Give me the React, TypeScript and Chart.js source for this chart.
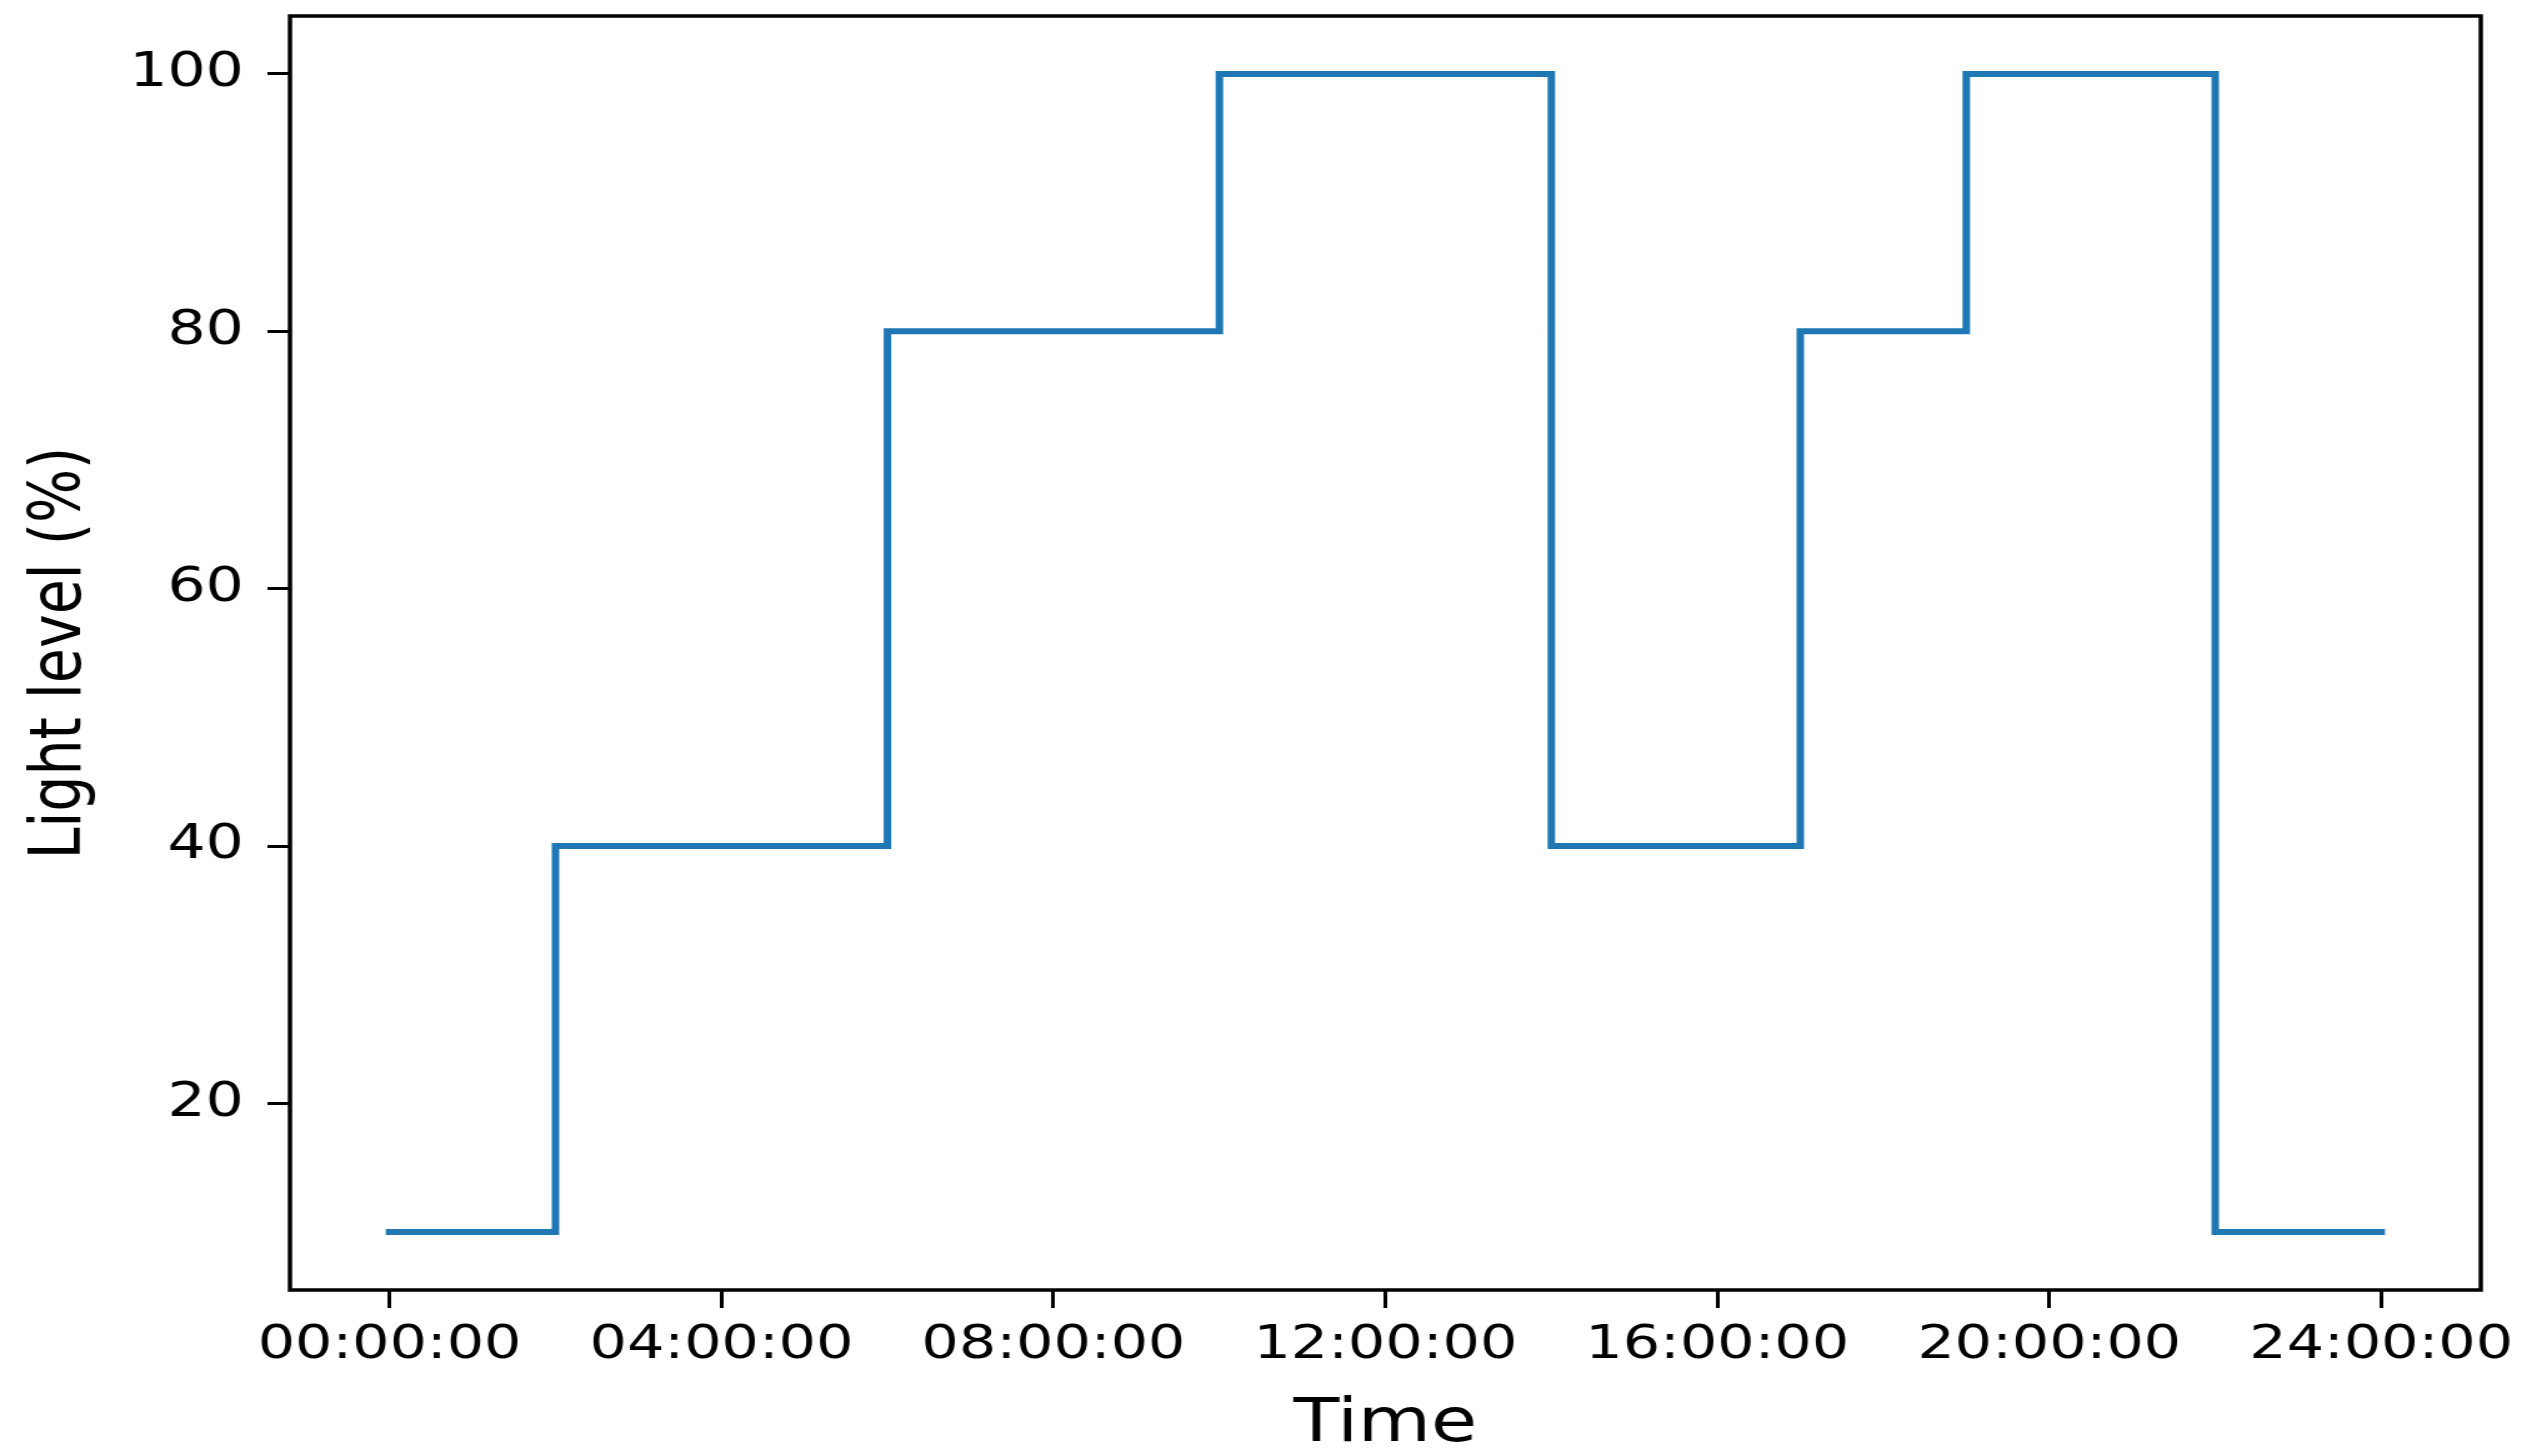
import React, { useEffect, useRef } from "react";
import { Chart, registerables } from "chart.js";

Chart.register(...registerables);

// ---- data ----
const HOURS = [0, 2, 6, 10, 14, 17, 19, 22, 24];
const LIGHT_LEVEL = [10, 40, 80, 100, 40, 80, 100, 10, 10];
const X_TICKS = [0, 4, 8, 12, 16, 20, 24];
const Y_TICKS = [20, 40, 60, 80, 100];
const X_LIMITS = [-1.2, 25.2];
const Y_LIMITS = [5.5, 104.5];
const X_TITLE = "Time";
const Y_TITLE = "Light level (%)";

// ---- layout ----
const PAGE_W = 2532;
const PAGE_H = 1455;
const CANVAS_W = 2026;
const STRETCH = PAGE_W / CANVAS_W;
const FONT = "DejaVu Sans";

const fmtHour = (v: number) => `${String(v).padStart(2, "0")}:00:00`;

export default function App() {
  const ref = useRef<HTMLCanvasElement>(null);

  useEffect(() => {
    const canvas = ref.current;
    if (!canvas) return;

    const framePlugin = {
      id: "frame",
      afterDraw(chart: any) {
        const { ctx, chartArea: a } = chart;
        ctx.save();
        ctx.strokeStyle = "#000";
        ctx.lineWidth = 3.5;
        ctx.strokeRect(a.left, a.top, a.right - a.left, a.bottom - a.top);
        ctx.restore();
      },
    };

    const noEdgePadding = (s: any) => {
      s.paddingTop = 0;
      s.paddingBottom = 0;
      s.paddingLeft = 0;
      s.paddingRight = 0;
    };

    const chart = new Chart(canvas, {
      type: "line",
      data: {
        datasets: [
          {
            data: HOURS.map((h, i) => ({ x: h, y: LIGHT_LEVEL[i] })),
            borderColor: "#1f77b4",
            backgroundColor: "#1f77b4",
            borderWidth: 6,
            pointRadius: 0,
            stepped: "before",
            fill: false,
            borderCapStyle: "square",
          },
        ],
      },
      options: {
        responsive: false,
        animation: false,
        devicePixelRatio: 1,
        layout: { padding: { top: 16, right: CANVAS_W - 1985, bottom: 0, left: 0 } },
        plugins: { legend: { display: false }, tooltip: { enabled: false } },
        scales: {
          x: {
            type: "linear",
            min: X_LIMITS[0],
            max: X_LIMITS[1],
            afterFit: (s: any) => {
              s.height = 165;
              noEdgePadding(s);
            },
            afterBuildTicks: (s: any) => {
              s.ticks = X_TICKS.map((v) => ({ value: v }));
            },
            border: { display: false },
            grid: {
              display: true,
              drawOnChartArea: false,
              drawTicks: true,
              tickLength: 18,
              lineWidth: 3,
              color: "#000",
            },
            ticks: {
              callback: (v: any) => fmtHour(Number(v)),
              font: { family: FONT, size: 47 },
              color: "#000",
              padding: 10,
              maxRotation: 0,
              autoSkip: false,
            },
            title: {
              display: true,
              text: X_TITLE,
              font: { family: FONT, size: 60 },
              color: "#000",
              padding: { top: 0, bottom: -6 },
            },
          },
          y: {
            type: "linear",
            min: Y_LIMITS[0],
            max: Y_LIMITS[1],
            afterFit: (s: any) => {
              s.width = 232;
              noEdgePadding(s);
            },
            afterBuildTicks: (s: any) => {
              s.ticks = Y_TICKS.map((v) => ({ value: v }));
            },
            border: { display: false },
            grid: {
              display: true,
              drawOnChartArea: false,
              drawTicks: true,
              tickLength: 18,
              lineWidth: 3,
              color: "#000",
            },
            ticks: {
              font: { family: FONT, size: 48 },
              color: "#000",
              padding: 19,
              autoSkip: false,
            },
            title: {
              display: true,
              text: Y_TITLE,
              font: { family: FONT, size: 57 },
              color: "#000",
              padding: { top: 14.5, bottom: 0 },
            },
          },
        },
      },
      plugins: [framePlugin],
    } as any);

    return () => chart.destroy();
  }, []);

  return (
    <div
      style={{
        position: "fixed",
        left: 0,
        top: 0,
        width: PAGE_W,
        height: PAGE_H,
        overflow: "hidden",
        background: "#fff",
      }}
    >
      <canvas
        ref={ref}
        width={CANVAS_W}
        height={PAGE_H}
        style={{
          display: "block",
          transform: `scaleX(${STRETCH})`,
          transformOrigin: "0 0",
        }}
      />
    </div>
  );
}
